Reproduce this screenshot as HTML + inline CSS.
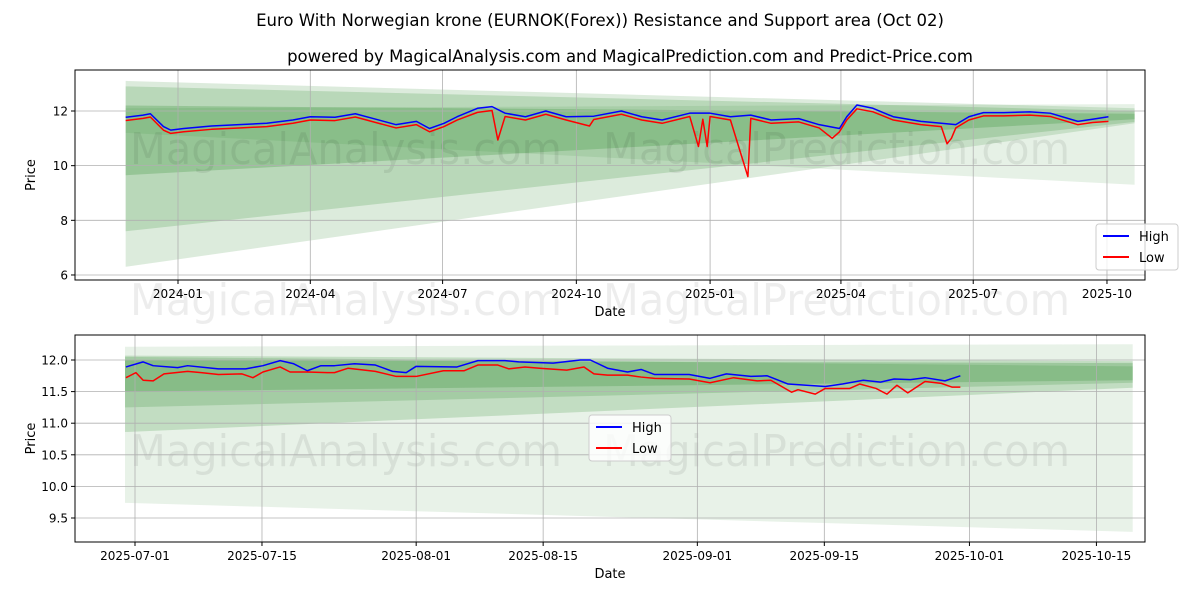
<!DOCTYPE html>
<html><head><meta charset="utf-8"><style>
body{margin:0;background:#fff;}
svg{display:block;font-family:"DejaVu Sans","Liberation Sans",sans-serif;}
</style></head><body>
<svg id="c" width="1200" height="600" viewBox="0 0 1200 600" xmlns="http://www.w3.org/2000/svg">
<rect width="1200" height="600" fill="#fff"/>
<text x="600" y="26" font-size="16.5" text-anchor="middle" fill="#000">Euro With Norwegian krone (EURNOK(Forex)) Resistance and Support area (Oct 02)</text>
<text x="630" y="62" font-size="16.5" text-anchor="middle" fill="#000">powered by MagicalAnalysis.com and MagicalPrediction.com and Predict-Price.com</text>
<g id="top"></g>
<g id="bot"></g>
<text x="130" y="315" font-size="44" textLength="432" lengthAdjust="spacingAndGlyphs" fill="#000" fill-opacity="0.07">MagicalAnalysis.com</text>
<text x="603" y="315" font-size="44" textLength="467" lengthAdjust="spacingAndGlyphs" fill="#000" fill-opacity="0.07">MagicalPrediction.com</text>
</svg>
<script>
// ---- top chart data (days from 2024-01-01) ----
const topHighDays=[-36,-24,-19,-10,-5,4,23,42,61,79,91,108,122,136,150,164,173,183,192,206,216,225,239,253,267,286,305,319,333,352,366,380,394,408,427,441,455,460,467,478,492,511,525,535,544,554,568,586,600,619,629,640];
const topHighVals=[11.77,11.85,11.9,11.43,11.3,11.36,11.45,11.5,11.55,11.67,11.79,11.77,11.9,11.7,11.5,11.62,11.36,11.55,11.79,12.1,12.16,11.92,11.79,12.0,11.79,11.81,12.0,11.79,11.67,11.92,11.92,11.79,11.85,11.67,11.72,11.5,11.36,11.79,12.22,12.1,11.79,11.62,11.55,11.5,11.79,11.94,11.94,11.97,11.92,11.62,11.7,11.79];
const topLowDays=[-36,-24,-19,-10,-5,4,23,42,61,79,91,108,122,136,150,164,173,183,192,206,216,220,225,239,253,267,283,286,305,319,333,352,358,361,364,366,380,392,394,408,427,441,450,455,460,467,478,492,511,525,529,532,535,544,554,568,586,600,619,629,640];
const topLowVals=[11.65,11.73,11.78,11.3,11.18,11.24,11.33,11.38,11.43,11.55,11.67,11.65,11.78,11.58,11.38,11.5,11.24,11.43,11.67,11.95,12.02,10.94,11.8,11.67,11.88,11.67,11.45,11.69,11.88,11.67,11.55,11.8,10.7,11.7,10.7,11.8,11.67,9.6,11.73,11.55,11.6,11.38,11.0,11.24,11.67,12.08,11.97,11.67,11.5,11.43,10.8,11.0,11.38,11.67,11.82,11.82,11.85,11.8,11.5,11.58,11.62];
const topBands=[[-36,6.3,13.1,658,11.55,12.1,0.17],[-36,7.6,12.9,658,11.6,12.0,0.2],[-36,9.65,12.2,658,11.7,11.9,0.25],[-36,11.2,12.1,658,9.3,12.25,0.12]];
const topYTicks=[6,8,10,12];
const topXTicks=[["2024-01",0],["2024-04",91],["2024-07",182],["2024-10",274],["2025-01",366],["2025-04",456],["2025-07",547],["2025-10",639]];
// ---- bottom chart data (days from 2025-07-01) ----
const botHighDays=[-1,0.9,2,4.7,5.8,9.2,12.2,14.1,16,17.5,19,20.5,22,24.2,26.5,28.4,29.9,31,35.5,37.8,40.8,42.3,46.1,49.1,50.2,52.1,54.3,55.8,57.3,61.1,63.4,65.2,67.9,69.7,72,76.1,78,80.3,82.2,83.7,85.5,87.1,89.3,91];
const botHighVals=[11.89,11.97,11.91,11.88,11.91,11.86,11.86,11.91,11.99,11.94,11.83,11.91,11.91,11.94,11.92,11.82,11.8,11.9,11.89,11.99,11.99,11.97,11.95,12.0,12.0,11.87,11.81,11.85,11.77,11.77,11.71,11.78,11.74,11.75,11.62,11.58,11.62,11.68,11.65,11.7,11.69,11.72,11.67,11.75];
const botLowDays=[-1,0.1,0.9,2,3.2,5.8,7.3,9.2,11.8,13,14.1,16,17.1,19,21.2,22,23.5,26.5,28.8,31,34,36.3,37.8,40,41.2,43,44.6,47.6,49.5,50.6,52.1,54.3,55.8,57.3,61.1,63.4,66,68.6,70.1,72.4,73.1,75,76.1,78.8,79.9,81.7,82.9,84,85.2,87.1,88.9,90.1,91];
const botLowVals=[11.72,11.8,11.68,11.67,11.78,11.82,11.8,11.77,11.78,11.72,11.81,11.89,11.81,11.81,11.8,11.8,11.87,11.82,11.74,11.74,11.83,11.83,11.92,11.92,11.86,11.89,11.87,11.84,11.89,11.78,11.76,11.76,11.73,11.71,11.7,11.64,11.72,11.67,11.68,11.49,11.53,11.46,11.55,11.55,11.62,11.55,11.46,11.6,11.48,11.66,11.63,11.57,11.57];
const botBands=[[-1.1,9.74,12.21,110,9.28,12.25,0.11],[-1.1,10.86,12.07,110,11.56,11.98,0.2],[-1.1,11.25,12.05,110,11.64,11.9,0.2],[-1.1,11.5,12.0,110,11.68,11.95,0.25]];
const botYTicks=[9.5,10.0,10.5,11.0,11.5,12.0];
const botXTicks=[["2025-07-01",0],["2025-07-15",14],["2025-08-01",31],["2025-08-15",45],["2025-09-01",62],["2025-09-15",76],["2025-10-01",92],["2025-10-15",106]];

const NS="http://www.w3.org/2000/svg";
function mk(p,t,a){const e=document.createElementNS(NS,t);for(const k in a)e.setAttribute(k,a[k]);p.appendChild(e);return e;}

function panel(g,box,xs,ys,bands,hd,hv,ld,lv,yt,xt,yfmt,legPos,wmY,name){
  const [L,T,R,B]=box;
  mk(g,"rect",{x:L,y:T,width:R-L,height:B-T,fill:"#fff"});
  bands.forEach((b,i)=>{
    const p=mk(g,"polygon",{points:`${xs(b[0])},${ys(b[2])} ${xs(b[3])},${ys(b[5])} ${xs(b[3])},${ys(b[4])} ${xs(b[0])},${ys(b[1])}`,fill:"#2e8b2e","fill-opacity":b[6]});
    
    
  });
  const w1=mk(g,"text",{x:130,y:wmY,"font-size":44,textLength:432,lengthAdjust:"spacingAndGlyphs",fill:"#000","fill-opacity":0.07});
  w1.textContent="MagicalAnalysis.com";
  
  
  const w2=mk(g,"text",{x:603,y:wmY,"font-size":44,textLength:467,lengthAdjust:"spacingAndGlyphs",fill:"#000","fill-opacity":0.07});
  w2.textContent="MagicalPrediction.com";
  
  
  yt.forEach(v=>{const y=ys(v);
    mk(g,"line",{x1:L,x2:R,y1:y,y2:y,stroke:"#b0b0b0","stroke-width":0.8});
    mk(g,"line",{x1:L-4,x2:L,y1:y,y2:y,stroke:"#000"});
    const t=mk(g,"text",{x:L-7,y:y+4.5,"font-size":12,"text-anchor":"end"});t.textContent=yfmt(v);
    
    
  });
  xt.forEach(d=>{const x=xs(d[1]);
    mk(g,"line",{x1:x,x2:x,y1:T,y2:B,stroke:"#b0b0b0","stroke-width":0.8});
    mk(g,"line",{x1:x,x2:x,y1:B,y2:B+4,stroke:"#000"});
    const t=mk(g,"text",{x:x,y:B+18,"font-size":12,"text-anchor":"middle"});t.textContent=d[0];
    
    
  });
  const hp=mk(g,"polyline",{points:hd.map((d,i)=>xs(d)+","+ys(hv[i])).join(" "),fill:"none",stroke:"#0000ff","stroke-width":1.5,"stroke-linejoin":"round"});
  
  
  const lp=mk(g,"polyline",{points:ld.map((d,i)=>xs(d)+","+ys(lv[i])).join(" "),fill:"none",stroke:"#ff0000","stroke-width":1.5,"stroke-linejoin":"round"});
  
  
  mk(g,"rect",{x:L,y:T,width:R-L,height:B-T,fill:"none",stroke:"#000","stroke-width":1});
  const yl=mk(g,"text",{x:0,y:0,"font-size":13,"text-anchor":"middle",transform:`translate(${L-40},${(T+B)/2}) rotate(-90)`});yl.textContent="Price";
  
  
  const xl=mk(g,"text",{x:(L+R)/2,y:B+36,"font-size":13,"text-anchor":"middle"});xl.textContent="Date";
  
  
  const [lx,ly]=legPos;
  const lg=mk(g,"g",{});
  
  
  mk(lg,"rect",{x:lx,y:ly,width:82,height:46,rx:3,fill:"#fff","fill-opacity":0.8,stroke:"#ccc"});
  mk(lg,"line",{x1:lx+7,x2:lx+33,y1:ly+12,y2:ly+12,stroke:"#0000ff","stroke-width":2});
  mk(lg,"line",{x1:lx+7,x2:lx+33,y1:ly+33,y2:ly+33,stroke:"#ff0000","stroke-width":2});
  const t1=mk(lg,"text",{x:lx+43,y:ly+17,"font-size":13});t1.textContent="High";
  
  
  const t2=mk(lg,"text",{x:lx+43,y:ly+38,"font-size":13});t2.textContent="Low";
  
  
}
const tx=d=>178+d*1.4538, ty=v=>111+(12-v)*27.33;
panel(document.getElementById("top"),[75,70,1145,280],tx,ty,topBands,topHighDays,topHighVals,topLowDays,topLowVals,topYTicks,topXTicks,v=>String(v),[1096,224],164,"top");
const bx=d=>135+d*9.07, by=v=>360+(12-v)*63.2;
panel(document.getElementById("bot"),[75,335,1145,542],bx,by,botBands,botHighDays,botHighVals,botLowDays,botLowVals,botYTicks,botXTicks,v=>v.toFixed(1),[589,415],466,"bottom");
</script>
</body></html>
